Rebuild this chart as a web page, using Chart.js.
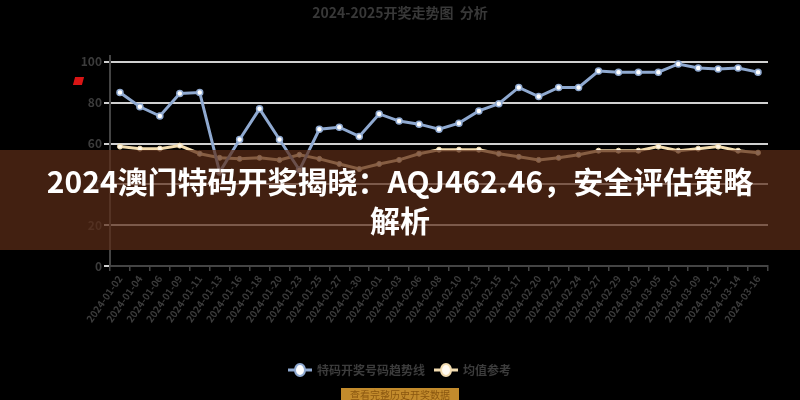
<!DOCTYPE html>
<html>
<head>
<meta charset="utf-8">
<script src="https://cdn.jsdelivr.net/npm/chart.js@4.4.1/dist/chart.umd.min.js"></script>
<style>
  html, body { margin: 0; padding: 0; background: #000; }
  #wrap { position: relative; width: 800px; height: 400px; overflow: hidden; background: #000; }
  #chart-box { position: absolute; left: 0; top: 0; width: 800px; height: 400px; }
  .marker { position: absolute; left: 74px; top: 77px; width: 9px; height: 8px; background: #d91515; transform: skewX(-15deg); }
  .banner {
    position: absolute; left: 0; top: 150px; width: 800px; height: 100px;
    background: rgba(91, 44, 23, 0.72); color: #fff; text-align: center;
    font-family: "Noto Sans CJK SC", sans-serif; font-weight: 700; font-size: 30px;
    line-height: 39px; padding-top: 11px; box-sizing: border-box;
  }
  .source {
    position: absolute; left: 341px; top: 388px; width: 118px; height: 16px;
    background: #c38b2c; color: #8a5710; text-align: center;
    font-family: "Noto Sans CJK SC", sans-serif; font-size: 10px; line-height: 13px;
  }
</style>
</head>
<body>
<div id="wrap">
  <div id="chart-box"><canvas id="chart-trend"></canvas></div>
  <div class="marker"></div>
  <div class="banner">2024澳门特码开奖揭晓：AQJ462.46，安全评估策略<br>解析</div>
  <div class="source">查看完整历史开奖数据</div>
</div>
<script>
(function () {
  var CATEGORIES = [
    "2024-01-02", "2024-01-04", "2024-01-06", "2024-01-09", "2024-01-11",
    "2024-01-13", "2024-01-16", "2024-01-18", "2024-01-20", "2024-01-23",
    "2024-01-25", "2024-01-27", "2024-01-30", "2024-02-01", "2024-02-03",
    "2024-02-06", "2024-02-08", "2024-02-10", "2024-02-13", "2024-02-15",
    "2024-02-17", "2024-02-20", "2024-02-22", "2024-02-24", "2024-02-27",
    "2024-02-29", "2024-03-02", "2024-03-05", "2024-03-07", "2024-03-09",
    "2024-03-12", "2024-03-14", "2024-03-16"
  ];

  var TREND_VALUES = [
    85, 78, 73.5, 84.5, 85, 46, 62, 77, 62, 47,
    67, 68, 63.5, 74.5, 71, 69.5, 67, 70, 76, 79.5,
    87.5, 83, 87.5, 87.5, 95.5, 95, 95, 95, 99, 97,
    96.5, 97, 95
  ];

  var AVERAGE_VALUES = [
    58.5, 57.5, 57.5, 59, 55, 53, 52.5, 53, 52, 54.5,
    52.5, 50, 47.5, 50, 52, 55, 57, 57, 57, 55,
    53.5, 52, 53, 54.5, 56.5, 56.5, 56.5, 58.5, 56.5, 57.5,
    58.5, 56.5, 55.5
  ];

  var SERIES_NAMES = ["特码开奖号码趋势线", "均值参考"];
  var TITLE_TEXT = "2024-2025开奖走势图  分析";
  var Y_MAX = 103;
  var Y_STEP = 20;

  var BLUE = "#8fa9d0";
  var CREAM = "#f2dcb0";
  var AXIS_TEXT = "#3c3c3c";
  var FONT = "'Noto Sans CJK SC', 'Noto Sans', sans-serif";

  // legend icon: short line with a hollow circle on it
  function legendIcon(color, fill) {
    var c = document.createElement("canvas");
    c.width = 24;
    c.height = 14;
    var ctx = c.getContext("2d");
    ctx.strokeStyle = color;
    ctx.lineWidth = 3;
    ctx.beginPath();
    ctx.moveTo(0, 7);
    ctx.lineTo(24, 7);
    ctx.stroke();
    ctx.beginPath();
    ctx.ellipse(12, 7, 5, 6, 0, 0, Math.PI * 2);
    ctx.fillStyle = fill;
    ctx.fill();
    ctx.lineWidth = 2;
    ctx.stroke();
    return c;
  }

  var icons = [legendIcon(BLUE, "#ffffff"), legendIcon(CREAM, "#fffaf0")];

  function initChart() {
    if (typeof Chart === "undefined") return;

    new Chart(document.getElementById("chart-trend"), {
      type: "line",
      data: {
        labels: CATEGORIES,
        datasets: [{
          label: SERIES_NAMES[0],
          data: TREND_VALUES,
          borderColor: BLUE,
          borderWidth: 3,
          pointRadius: 3,
          pointBorderWidth: 1.5,
          pointBackgroundColor: "#ffffff",
          pointBorderColor: BLUE,
          tension: 0
        }, {
          label: SERIES_NAMES[1],
          data: AVERAGE_VALUES,
          borderColor: CREAM,
          borderWidth: 3,
          pointRadius: 2.5,
          pointBorderWidth: 1,
          pointBackgroundColor: "#fff8e8",
          pointBorderColor: CREAM,
          tension: 0
        }]
      },
      options: {
        responsive: true,
        maintainAspectRatio: false,
        animation: false,
        layout: { padding: { left: 0, right: 0, top: 0, bottom: 14 } },
        plugins: {
          title: {
            display: true,
            text: TITLE_TEXT,
            color: "#383838",
            font: { family: FONT, size: 14, weight: "bold" },
            padding: { top: 4, bottom: 35 }
          },
          legend: {
            position: "bottom",
            labels: {
              color: AXIS_TEXT,
              font: { family: FONT, size: 12, weight: "bold" },
              usePointStyle: true,
              pointStyleWidth: 22,
              padding: 10,
              generateLabels: function (chart) {
                return chart.data.datasets.map(function (ds, i) {
                  return {
                    text: ds.label,
                    fillStyle: ds.borderColor,
                    strokeStyle: ds.borderColor,
                    fontColor: AXIS_TEXT,
                    pointStyle: icons[i],
                    datasetIndex: i,
                    lineWidth: 0
                  };
                });
              }
            }
          },
          tooltip: { enabled: false }
        },
        scales: {
          x: {
            offset: true,
            grid: {
              offset: true,
              drawOnChartArea: false,
              drawTicks: true,
              tickLength: 5,
              color: "#444444",
              lineWidth: 1.5
            },
            border: { color: "#444444", width: 2 },
            ticks: {
              color: AXIS_TEXT,
              font: { family: FONT, size: 10, weight: "bold" },
              minRotation: 55,
              maxRotation: 55,
              autoSkip: false,
              padding: 2
            },
            afterFit: function (scale) { scale.height = 88; }
          },
          y: {
            min: 0,
            max: Y_MAX,
            grid: {
              color: "#d0d0d0",
              lineWidth: 2,
              drawTicks: true,
              tickLength: 6
            },
            border: { color: "#444444", width: 2 },
            ticks: {
              stepSize: Y_STEP,
              includeBounds: false,
              color: AXIS_TEXT,
              font: { family: FONT, size: 12, weight: "bold" },
              padding: 2
            },
            afterFit: function (scale) { scale.width = 110; }
          },
          // empty right-hand gutter so title and legend stay centred on the page
          gutter: {
            type: "linear",
            position: "right",
            display: true,
            grid: { display: false },
            border: { display: false },
            ticks: { display: false },
            afterFit: function (scale) { scale.width = 32; }
          }
        }
      }
    });
  }

  if (document.readyState === "loading") {
    document.addEventListener("DOMContentLoaded", initChart);
  } else {
    initChart();
  }
})();
</script>
</body>
</html>
